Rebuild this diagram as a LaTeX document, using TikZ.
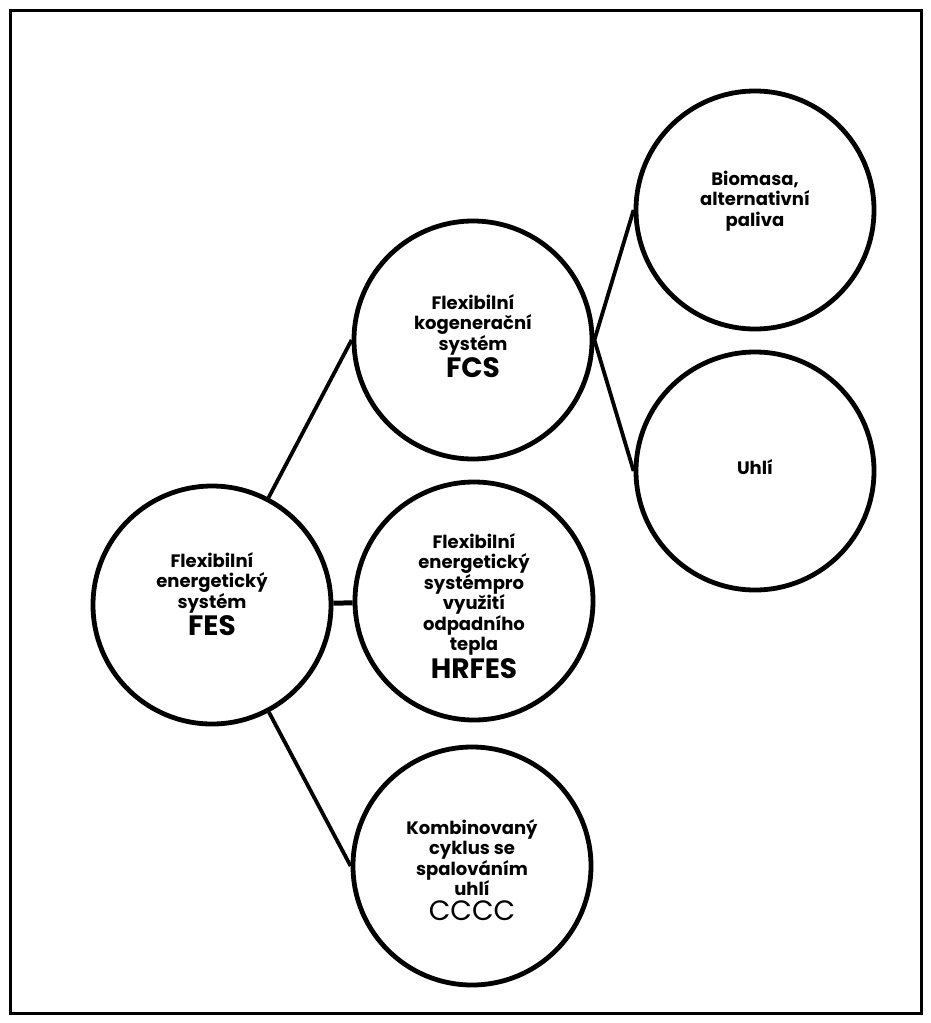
\documentclass[tikz,border=0pt]{standalone}
\usepackage{fontspec}
\setmainfont{Poppins}
\newcommand\acro[1]{{\fontsize{28}{30}\selectfont #1}}
\begin{document}
\begin{tikzpicture}[x=1pt,y=-1pt,
  bubble/.style={circle, draw, line width=4.8pt, minimum size=238pt, inner sep=0pt},
  caption/.style={align=center, font=\bfseries\fontsize{18}{20.5}\selectfont, inner sep=0pt},
  link/.style={line width=3.8pt},
  boldlink/.style={line width=5pt}]
  % page and frame
  \fill[white] (0,0) rectangle (931,1023);
  \useasboundingbox (0,0) rectangle (931,1023);
  \draw[line width=3pt] (10,10) rectangle (921,1013);

  % circles
  \node[bubble] (fes)   at (212,605) {};
  \node[bubble] (fcs)   at (473,340) {};
  \node[bubble] (hrfes) at (474,601) {};
  \node[bubble] (cccc)  at (472,866) {};
  \node[bubble] (bio)   at (755,210) {};
  \node[bubble] (uhli)  at (755,471) {};

  % captions
  \node[caption] (tfes)   at (212,594) {Flexibilní\\energetický\\systém\\[2pt]\acro{FES}};
  \node[caption] (tfcs)   at (473,336) {Flexibilní\\kogenerační\\systém\\[2pt]\acro{FCS}};
  \node[caption] (thrfes) at (474,606) {Flexibilní\\energetický\\systémpro\\využití\\odpadního\\tepla\\[2pt]\acro{HRFES}};
  \node[caption] (tcccc)  at (472,870) {Kombinovaný\\cyklus se\\spalováním\\uhlí\\[4pt]\acro{\mdseries CCCC}};
  \node[caption] (tbio)   at (755,201) {Biomasa,\\alternativní\\paliva};
  \node[caption] (tuhli)  at (755,467) {Uhlí};

  % connectors
  \draw[link] (fes) -- (fcs.west);
  \draw[boldlink] (fes) -- (hrfes);
  \draw[link] (fes) -- (cccc.west);
  \draw[link] (fcs.east) -- (bio.west);
  \draw[link] (fcs.east) -- (uhli.west);
\end{tikzpicture}
\end{document}
